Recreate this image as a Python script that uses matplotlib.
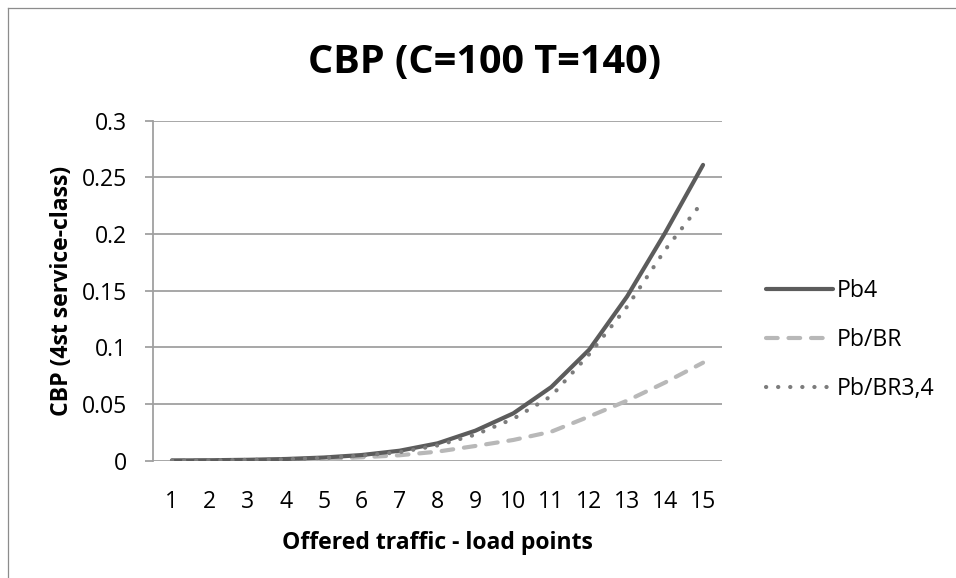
import matplotlib
matplotlib.use("Agg")
import matplotlib.pyplot as plt
from matplotlib.lines import Line2D

plt.rcParams['font.family'] = ['Open Sans', 'DejaVu Sans']

categories = [str(i) for i in range(1, 16)]
pb4 = [0.0002, 0.0004, 0.0008, 0.0015, 0.0028, 0.005, 0.0088, 0.0153, 0.0265,
       0.0418, 0.065, 0.098, 0.145, 0.201, 0.261]
pb_br = [0.0001, 0.0002, 0.0004, 0.0008, 0.0016, 0.003, 0.0048, 0.008, 0.013,
         0.0183, 0.0256, 0.039, 0.053, 0.069, 0.0865]
pb_br34 = [0.0002, 0.0003, 0.0007, 0.0013, 0.0025, 0.0045, 0.0075, 0.0135, 0.023,
           0.037, 0.057, 0.094, 0.136, 0.186, 0.229]
yticks = [0, 0.05, 0.1, 0.15, 0.2, 0.25, 0.3]
ytick_labels = ['0', '0.05', '0.1', '0.15', '0.2', '0.25', '0.3']

W, H = 956, 578
FS = 16.6
fig = plt.figure(figsize=(W / 100, H / 100), dpi=100)
ax = fig.add_axes([153 / W, 1 - 460.7 / H, (722 - 153) / W, (460.7 - 120.7) / H])

xs = list(range(1, len(categories) + 1))
grid_c = '#a0a0a0'

l1, = ax.plot(xs, pb4, color='#5c5c5c', lw=3.0, solid_capstyle='round',
              solid_joinstyle='round', zorder=4, label='Pb4')
l2, = ax.plot(xs, pb_br, color='#b8b8b8', lw=3.0, linestyle=(0, (2.8, 2.6)),
              dash_capstyle='round', zorder=3, label='Pb/BR')
l3, = ax.plot(xs, pb_br34, color='#7c7c7c', lw=3.0, linestyle=(0, (0.05, 2.85)),
              dash_capstyle='round', zorder=5, label='Pb/BR3,4')

ax.set_xlim(0.5, 15.5)
ax.set_ylim(0, 0.3)
ax.set_yticks(yticks)
ax.set_yticklabels(ytick_labels)
ax.set_xticks(xs)
ax.set_xticklabels(categories)
ax.yaxis.grid(True, color=grid_c, lw=1.3)
ax.set_axisbelow(True)
for s in ['top', 'right', 'bottom']:
    ax.spines[s].set_visible(False)
ax.spines['left'].set_color(grid_c)
ax.spines['left'].set_linewidth(1.3)
ax.tick_params(axis='y', length=5.5, width=1.3, color=grid_c, pad=13.3,
               labelsize=FS, labelcolor='black')
ax.tick_params(axis='x', length=0, pad=21, labelsize=FS, labelcolor='black')

fig.text(485 / W, 1 - 73 / H, 'CBP (C=100 T=140)', ha='center', va='baseline',
         fontsize=28.5, fontweight='bold')
fig.text(437 / W, 1 - 543 / H, 'Offered traffic - load points', ha='center',
         va='center', fontsize=FS, fontweight='bold')
fig.text(62 / W, 1 - 291 / H, 'CBP (4st service-class)', ha='center',
         va='center', rotation=90, fontsize=FS, fontweight='bold')

fig.legend(handles=[l1, l2, l3], loc='upper left',
           bbox_to_anchor=(766 / W, 1 - 279 / H), bbox_transform=fig.transFigure,
           frameon=False, borderaxespad=0, borderpad=0, fontsize=FS,
           handlelength=2.9, handletextpad=0.19, labelspacing=1.09)

# chart area frame (left and top edges visible)
frame_c = '#8c8c8c'
fig.add_artist(Line2D([8 / W, 8 / W], [0, 1 - 8 / H], color=frame_c, lw=0.9))
fig.add_artist(Line2D([8 / W, 1], [1 - 8 / H, 1 - 8 / H], color=frame_c, lw=0.9))

fig.savefig('out.png', dpi=100, facecolor='white')
